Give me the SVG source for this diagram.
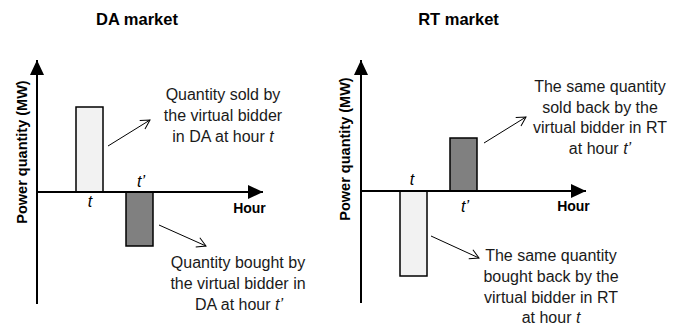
<svg xmlns="http://www.w3.org/2000/svg" width="678" height="329" viewBox="0 0 678 329">
<defs>
<marker id="big" markerWidth="15" markerHeight="14" refX="15" refY="7" orient="auto" markerUnits="userSpaceOnUse">
<path d="M0,0 L15,7 L0,14 Z" fill="#000"/>
</marker>
<marker id="open" markerWidth="12" markerHeight="12" refX="10" refY="6" orient="auto" markerUnits="userSpaceOnUse">
<path d="M1,1 L10,6 L1,11" fill="none" stroke="#000" stroke-width="1"/>
</marker>
</defs>
<style>
.axis{stroke:#000;stroke-width:2;fill:none}
.ptr{stroke:#000;stroke-width:1;fill:none}
.light{fill:#f2f2f2;stroke:#000;stroke-width:1.5}
.dark{fill:#808080;stroke:#000;stroke-width:1.5}
.title{font-family:"Liberation Sans",Arial,sans-serif;font-weight:bold;font-size:16.5px;text-anchor:middle;fill:#000}
.hour{font-family:"Liberation Sans",Arial,sans-serif;font-weight:bold;font-size:14px;text-anchor:middle;fill:#000}
.ylab{font-family:"Liberation Sans",Arial,sans-serif;font-weight:bold;font-size:14.5px;text-anchor:middle;fill:#000}
.note{font-family:"Liberation Sans",Arial,sans-serif;font-size:16px;text-anchor:middle;fill:#1a1a1a}
.tick{font-family:"Liberation Sans",Arial,sans-serif;font-style:italic;font-size:16px;text-anchor:middle;fill:#000}
</style>
<rect width="678" height="329" fill="#fff"/>

<g id="da-panel">
<text class="title" x="137" y="25">DA market</text>
<text class="ylab" transform="translate(27,152) rotate(-90)" x="0" y="0">Power quantity (MW)</text>
<text class="hour" x="249.5" y="213">Hour</text>
</g>
<g id="da-bar-sold">
<rect class="light" x="76" y="107" width="27" height="85"/>
<text class="tick" x="90" y="207">t</text>
</g>
<g id="da-bar-bought">
<rect class="dark" x="126" y="192" width="27" height="54"/>
<text class="tick" x="141" y="187">t’</text>
</g>
<g id="da-note-sold">
<text class="note" x="223" y="100">Quantity sold by</text>
<text class="note" x="223" y="121">the virtual bidder</text>
<text class="note" x="223" y="142">in DA at hour <tspan font-style="italic">t</tspan></text>
</g>
<g id="da-note-bought">
<text class="note" x="238" y="268">Quantity bought by</text>
<text class="note" x="238" y="289">the virtual bidder in</text>
<text class="note" x="239" y="310">DA at hour <tspan font-style="italic">t’</tspan></text>
</g>

<g id="rt-panel">
<text class="title" x="458.5" y="25">RT market</text>
<text class="ylab" transform="translate(350,149) rotate(-90)" x="0" y="0">Power quantity (MW)</text>
<text class="hour" x="573.5" y="211">Hour</text>
</g>
<g id="rt-bar-sold">
<rect class="dark" x="450" y="138" width="27" height="53"/>
<text class="tick" x="465" y="212">t’</text>
</g>
<g id="rt-bar-bought">
<rect class="light" x="400" y="191" width="27" height="85"/>
<text class="tick" x="412" y="185">t</text>
</g>
<g id="rt-note-sold">
<text class="note" x="600" y="92">The same quantity</text>
<text class="note" x="600" y="112.5">sold back by the</text>
<text class="note" x="600" y="133">virtual bidder in RT</text>
<text class="note" x="600" y="153.5">at hour <tspan font-style="italic">t’</tspan></text>
</g>
<g id="rt-note-bought">
<text class="note" x="551" y="261">The same quantity</text>
<text class="note" x="551" y="282">bought back by the</text>
<text class="note" x="551" y="302.5">virtual bidder in RT</text>
<text class="note" x="551" y="323">at hour <tspan font-style="italic">t</tspan></text>
</g>

<g id="connectors">
<line class="axis" x1="37" y1="304" x2="37" y2="60" marker-end="url(#big)"/>
<line class="axis" x1="37" y1="192" x2="263" y2="192" marker-end="url(#big)"/>
<line class="axis" x1="361" y1="303" x2="361" y2="60" marker-end="url(#big)"/>
<line class="axis" x1="361" y1="191" x2="586" y2="191" marker-end="url(#big)"/>
<line class="ptr" x1="108" y1="146" x2="150" y2="120" marker-end="url(#open)"/>
<line class="ptr" x1="159" y1="225" x2="206" y2="246" marker-end="url(#open)"/>
<line class="ptr" x1="484" y1="143" x2="526" y2="117" marker-end="url(#open)"/>
<line class="ptr" x1="431" y1="236" x2="479" y2="258" marker-end="url(#open)"/>
</g>
</svg>
